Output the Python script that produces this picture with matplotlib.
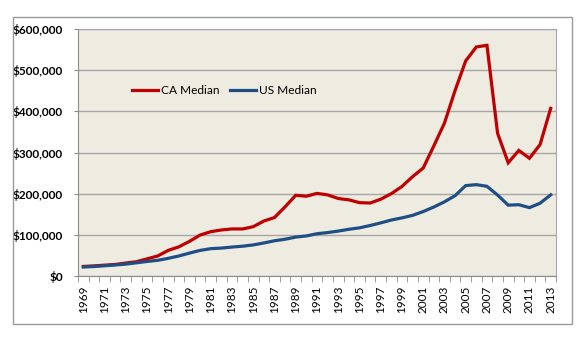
import matplotlib.pyplot as plt
from matplotlib.patches import Rectangle
from matplotlib.ticker import FuncFormatter

years = list(range(1969, 2014))
ca_median = [23210, 24640, 26310, 28070, 31460, 34610, 41600, 48640, 62290, 70890,
             84150, 99550, 107710, 111800, 114370, 114260, 119860, 133640, 142060, 168200,
             196120, 193770, 200660, 197030, 188240, 185010, 178160, 177270, 186490, 200100,
             217510, 241350, 262350, 316130, 371520, 450770, 522670, 556430, 560270, 346750,
             275000, 305010, 286000, 319300, 407200]
us_median = [21800, 23000, 24800, 26700, 28900, 32000, 35300, 38100, 42900, 48700,
             55700, 62200, 66400, 67800, 70300, 72400, 75500, 80300, 85600, 89300,
             94600, 97300, 102700, 105500, 109100, 113500, 117000, 122600, 129000, 136000,
             141200, 147300, 156600, 167600, 180200, 195200, 219600, 221900, 217900, 196600,
             172100, 173100, 166100, 176800, 197100]

plt.rcParams['font.family'] = ['Lato', 'DejaVu Sans']

fig = plt.figure(figsize=(5.87, 3.43), dpi=100)
fig.patch.set_facecolor('white')
# chart area frame
fig.patches.append(Rectangle((13 / 587, 1 - 324 / 343), 559 / 587, 307 / 343,
                             transform=fig.transFigure, fill=False,
                             edgecolor='#9a9a9a', linewidth=1.0))

ax = fig.add_axes([78 / 587, 1 - 276 / 343, 478 / 587, 247 / 343])
ax.set_facecolor('#EEEBE0')

x = list(range(len(years)))
ax.plot(x, ca_median, color='#C00000', linewidth=2.3, label='CA Median',
        solid_joinstyle='miter', zorder=3)
ax.plot(x, us_median, color='#1F4E85', linewidth=2.3, label='US Median',
        solid_joinstyle='miter', zorder=3)

ax.set_xlim(-0.5, len(years) - 0.5)
ax.set_ylim(0, 600000)
ax.set_yticks(range(0, 600001, 100000))
ax.yaxis.set_major_formatter(FuncFormatter(lambda v, p: '${:,.0f}'.format(v)))
ax.yaxis.grid(True, color='#A6A6A6', linewidth=1.0)
ax.set_axisbelow(True)

# year labels every other category, tick marks between categories
ax.set_xticks(x[::2])
ax.set_xticklabels([str(y) for y in years[::2]], rotation=90)
ax.set_xticks([i - 0.5 for i in range(len(years) + 1)], minor=True)
ax.tick_params(axis='x', which='major', length=0, pad=7, labelsize=8.5)
ax.tick_params(axis='x', which='minor', length=4, color='#8c8c8c', direction='out')
ax.tick_params(axis='y', length=3, color='#8c8c8c', pad=8, labelsize=8.5)
for lab in ax.get_yticklabels():
    lab.set_fontweight('bold')

for side in ['left', 'bottom']:
    ax.spines[side].set_color('#8c8c8c')
for side in ['top', 'right']:
    ax.spines[side].set_color('#A9A3B8')

ax.legend(loc='center left', bbox_to_anchor=(0.113, 0.749), ncol=2, frameon=False,
          borderaxespad=0, borderpad=0, handlelength=2.2, handletextpad=0.25,
          columnspacing=0.85, fontsize=8.6)

fig.savefig('out.png', dpi=100)
